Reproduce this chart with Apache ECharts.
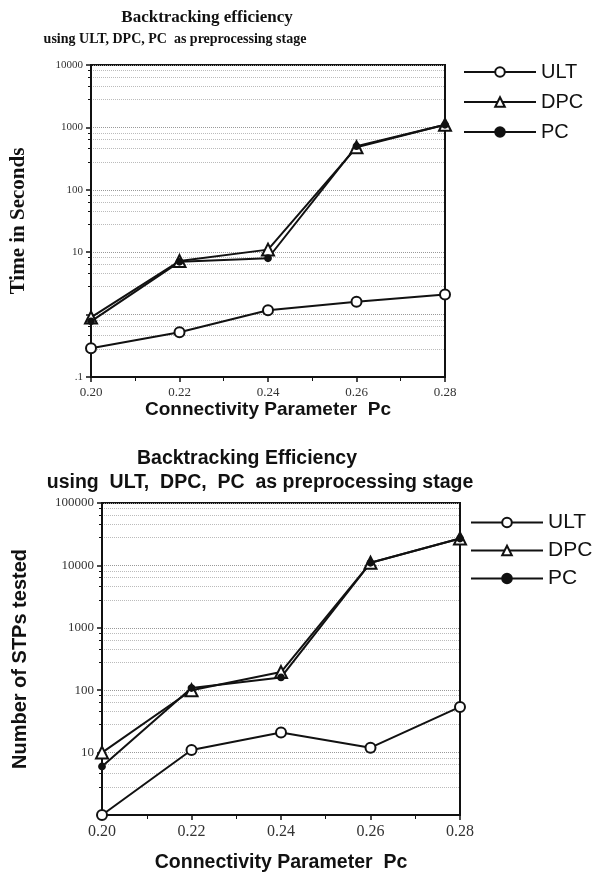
<!DOCTYPE html>
<html>
<head>
<meta charset="utf-8">
<script src="https://cdn.jsdelivr.net/npm/echarts@6/dist/echarts.min.js"></script>
<style>html,body{margin:0;padding:0;background:#fff}#c{width:603px;height:880px}</style>
</head>
<body>
<div id="c"></div>
<script>
// Shared x values (connectivity parameter Pc)
const pcValues = [0.20, 0.22, 0.24, 0.26, 0.28];

// Top chart: Time in Seconds (log scale)
const timeULT = [0.29, 0.52, 1.17, 1.6, 2.1];
const timeDPC = [0.9, 7.2, 11, 480, 1100];
const timePC  = [0.78, 7.0, 8.0, 500, 1100];

// Bottom chart: Number of STPs tested (log scale)
const stpULT = [1, 11, 21, 12, 54];
const stpDPC = [10, 100, 195, 11000, 27000];
const stpPC  = [6, 108, 160, 11000, 27000];

const seriesNames = ['ULT', 'DPC', 'PC'];

function pairs(ys) { return pcValues.map((x, i) => [x, ys[i]]); }

const serif = 'Liberation Serif';
const sans = 'Liberation Sans';

function xAxisCfg(gridIndex, name, nameGap, nameSize, labelSize) {
  return {
    type: 'value', gridIndex, min: 0.2, max: 0.28, interval: 0.02,
    name, nameLocation: 'middle', nameGap,
    nameTextStyle: { fontFamily: sans, fontWeight: 'bold', fontSize: nameSize, color: '#111' },
    axisLine: { show: true, lineStyle: { color: '#111', width: 2 } },
    axisTick: { show: true, inside: false, length: 5, lineStyle: { color: '#111', width: 1.5 } },
    minorTick: { show: true, splitNumber: 2, length: 4, lineStyle: { color: '#111' } },
    axisLabel: { formatter: v => v.toFixed(2), fontFamily: serif, fontSize: labelSize, color: '#333', margin: 9 },
    splitLine: { show: false }
  };
}

function yAxisCfg(gridIndex, min, max, name, nameFont, nameSize, nameGap, labelSize, fmt) {
  return {
    type: 'log', logBase: 10, gridIndex, min, max,
    name, nameLocation: 'middle', nameGap,
    nameTextStyle: { fontFamily: nameFont, fontWeight: 'bold', fontSize: nameSize, color: '#111' },
    axisLine: { show: true, lineStyle: { color: '#111', width: 2 } },
    axisTick: { show: true, length: 5, lineStyle: { color: '#111', width: 1.5 } },
    minorTick: { show: true, splitNumber: 5, length: 3, lineStyle: { color: '#111' } },
    axisLabel: { formatter: fmt, fontFamily: serif, fontSize: labelSize, color: '#333', margin: 8 },
    splitLine: { show: true, lineStyle: { color: '#999', type: 'dotted', width: 1 } },
    minorSplitLine: { show: true, lineStyle: { color: '#bbb', type: 'dotted', width: 1 } }
  };
}

const symbols = ['emptyCircle', 'emptyTriangle', 'circle'];
const symbolSizes = [10, 12, 6];

function mkSeries(name, idx, data, axisIdx) {
  return {
    name, type: 'line', xAxisIndex: axisIdx, yAxisIndex: axisIdx,
    data: pairs(data), symbol: symbols[idx], symbolSize: symbolSizes[idx],
    lineStyle: { color: '#111', width: 2 },
    itemStyle: { color: '#111', borderColor: '#111', borderWidth: 1.8 },
    emphasis: { disabled: true }, animation: false
  };
}

const chart = echarts.init(document.getElementById('c'), null, { renderer: 'canvas' });
chart.setOption({
  backgroundColor: '#fff',
  animation: false,
  title: [
    { text: 'Backtracking efficiency', left: 202, top: 4, textAlign: 'center',
      textStyle: { fontFamily: serif, fontWeight: 'bold', fontSize: 17, color: '#111' } },
    { text: 'using ULT, DPC, PC  as preprocessing stage', left: 170, top: 27, textAlign: 'center',
      textStyle: { fontFamily: serif, fontWeight: 'bold', fontSize: 14, color: '#111' } },
    { text: 'Backtracking Efficiency', left: 242, top: 444, textAlign: 'center',
      textStyle: { fontFamily: sans, fontWeight: 'bold', fontSize: 19.5, color: '#111' } },
    { text: 'using  ULT,  DPC,  PC  as preprocessing stage', left: 255, top: 468, textAlign: 'center',
      textStyle: { fontFamily: sans, fontWeight: 'bold', fontSize: 19.5, color: '#111' } }
  ],
  legend: [
    { data: seriesNames, orient: 'vertical', left: 458, top: 57, itemWidth: 72, itemHeight: 12, itemGap: 10,
      textStyle: { fontFamily: sans, fontSize: 20, color: '#111' } },
    { data: seriesNames, orient: 'vertical', left: 465, top: 507, itemWidth: 72, itemHeight: 12, itemGap: 7,
      textStyle: { fontFamily: sans, fontSize: 21, color: '#111' } }
  ],
  grid: [
    { left: 90, right: 158, top: 65, height: 312, show: true, borderColor: '#111', borderWidth: 2, backgroundColor: 'transparent' },
    { left: 102, right: 143, top: 503, height: 312, show: true, borderColor: '#111', borderWidth: 2, backgroundColor: 'transparent' }
  ],
  xAxis: [
    xAxisCfg(0, 'Connectivity Parameter  Pc', 22, 19, 13),
    xAxisCfg(1, 'Connectivity Parameter  Pc', 38, 19.5, 16)
  ],
  yAxis: [
    yAxisCfg(0, 0.1, 10000, 'Time in Seconds', serif, 21, 62, 11, v => {
      if (Math.abs(v - 0.1) < 1e-9) return '.1';
      if (Math.abs(v - 1) < 1e-9) return '';
      return String(Math.round(v));
    }),
    yAxisCfg(1, 1, 100000, 'Number of STPs tested', sans, 20, 72, 13, v => Math.abs(v - 1) < 1e-9 ? '' : String(Math.round(v)))
  ],
  series: [
    mkSeries('ULT', 0, timeULT, 0),
    mkSeries('DPC', 1, timeDPC, 0),
    mkSeries('PC', 2, timePC, 0),
    mkSeries('ULT', 0, stpULT, 1),
    mkSeries('DPC', 1, stpDPC, 1),
    mkSeries('PC', 2, stpPC, 1)
  ]
});
</script>
</body>
</html>
